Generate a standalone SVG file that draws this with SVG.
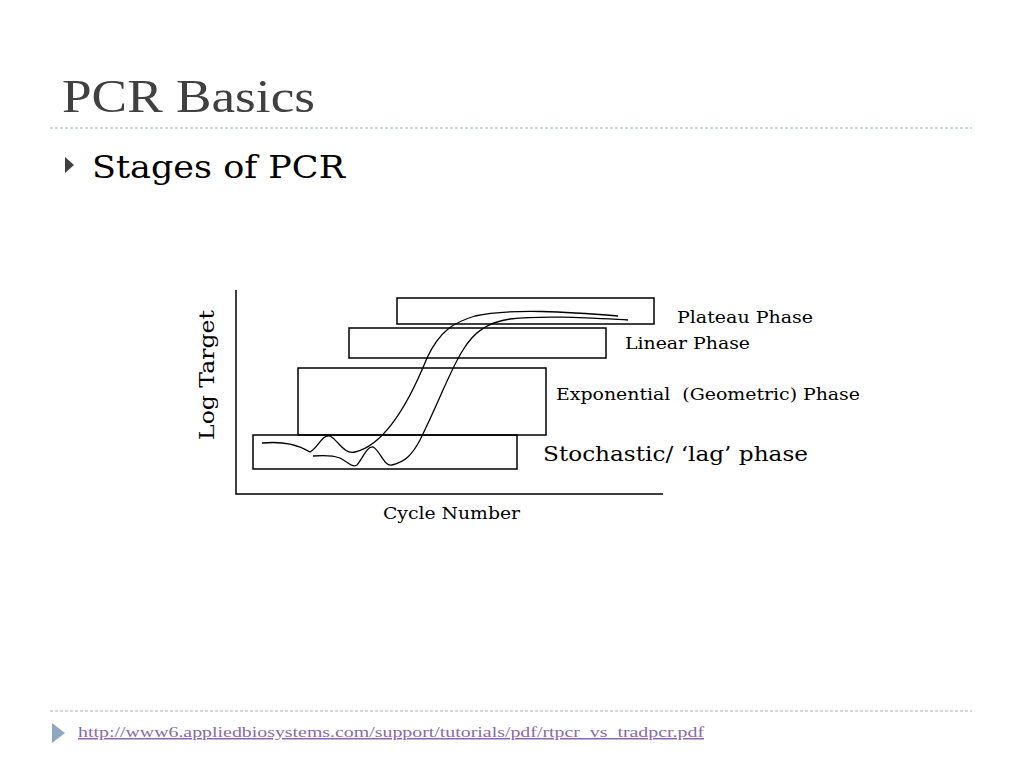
<svg xmlns="http://www.w3.org/2000/svg" width="1024" height="768" viewBox="0 0 1024 768">
<style>
.s{font-family:"DejaVu Serif","Liberation Serif",serif;fill:#000}
.b{fill:none;stroke:#000;stroke-width:1.5}
.c{fill:none;stroke:#000;stroke-width:1.3}
.d{stroke:#9fb5b5;stroke-width:1;stroke-dasharray:3,2}
</style>
<rect width="1024" height="768" fill="#fff"/>
<text x="62" y="112" font-family="Liberation Serif,serif" font-size="46" fill="#404040" textLength="253" lengthAdjust="spacingAndGlyphs">PCR Basics</text>
<line class="d" x1="50" y1="128" x2="972" y2="128"/>
<polygon points="65,157 74,165 65,173" fill="#404040"/>
<text x="92" y="178" font-family="DejaVu Serif,serif" font-size="31" fill="#000" textLength="253" lengthAdjust="spacingAndGlyphs">Stages of PCR</text>
<g id="axes"><polyline class="b" points="236,290 236,494 663,494"/></g>
<g id="plateau"><rect class="b" x="397" y="298" width="257" height="26"/><text class="s" x="677" y="323" font-size="16" textLength="136" lengthAdjust="spacingAndGlyphs">Plateau Phase</text></g>
<g id="linear"><rect class="b" x="349" y="328" width="257" height="30"/><text class="s" x="625" y="349" font-size="16" textLength="125" lengthAdjust="spacingAndGlyphs">Linear Phase</text></g>
<g id="exponential"><rect class="b" x="298" y="368" width="248" height="67"/><text class="s" x="556" y="400" font-size="16" xml:space="preserve" textLength="304" lengthAdjust="spacingAndGlyphs">Exponential  (Geometric) Phase</text></g>
<g id="stochastic"><rect class="b" x="253" y="435" width="264" height="34"/><text class="s" x="543" y="461" font-size="20" textLength="265" lengthAdjust="spacingAndGlyphs">Stochastic/ ‘lag’ phase</text></g>
<g id="curves">
<path class="c" d="M262,443 C285,441 298,445 310,452 C318,448 322,434 330,436 C338,440 344,455 355,452 C385,445 410,400 427,358 C440,330 455,322 475,316 C510,308 570,312 618,316"/>
<path class="c" d="M313,456 C325,455 332,455 340,458 C348,462 352,468 357,465 C363,458 367,446 373,447 C380,450 384,467 392,465 C405,462 412,455 420,440 C440,400 450,370 463,350 C475,330 490,322 510,319 C545,315 590,318 628,320"/>
</g>
<text class="s" x="383" y="519" font-size="16" textLength="137" lengthAdjust="spacingAndGlyphs">Cycle Number</text>
<text class="s" transform="translate(214,440) rotate(-90)" font-size="20" textLength="130" lengthAdjust="spacingAndGlyphs">Log Target</text>
<line class="d" x1="50" y1="711" x2="972" y2="711"/>
<polygon points="52,723 65,733 52,743" fill="#8fa8bf"/>
<text x="78" y="737" font-family="Liberation Serif,serif" font-size="15" fill="#8a6aa8" text-decoration="underline" textLength="626" lengthAdjust="spacingAndGlyphs">http://www6.appliedbiosystems.com/support/tutorials/pdf/rtpcr_vs_tradpcr.pdf</text>
</svg>
